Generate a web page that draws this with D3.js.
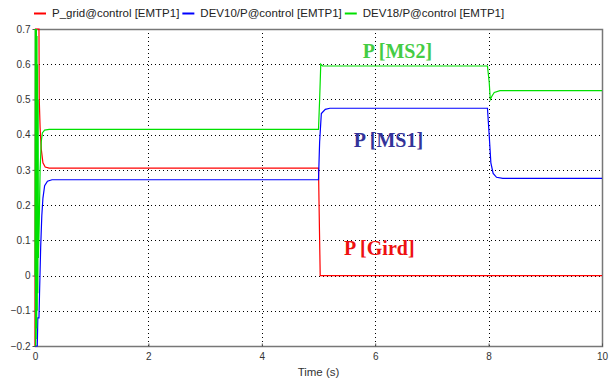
<!DOCTYPE html>
<html>
<head>
<meta charset="utf-8">
<script src="https://cdn.jsdelivr.net/npm/d3@7"></script>
<style>
  body { margin: 0; background: #fff; }
  svg { display: block; font-family: "Liberation Sans", Arial, sans-serif; }
</style>
</head>
<body>
<svg id="chart" width="616" height="381"></svg>
<script>
"use strict";

// series: [time (s), P]
const seriesNames = ["P_grid@control [EMTP1]", "DEV10/P@control [EMTP1]", "DEV18/P@control [EMTP1]"];
const seriesColors = ["#ff0000", "#0000ff", "#00e000"];
const pGrid = [[0,-0.2],[0.01,0.7],[0.07,0.7],[0.075,0.5],[0.09,0.42],[0.11,0.36],[0.14,0.32],[0.18,0.308],[0.25,0.305],
               [5.0,0.305],[5.01,0.2],[5.03,0],[10,0]];
const pMS1 = [[0,-0.2],[0.04,-0.2],[0.05,-0.12],[0.07,-0.12],[0.08,-0.05],[0.1,0.08],[0.12,0.17],[0.14,0.22],[0.17,0.255],[0.22,0.268],[0.3,0.272],
              [5.0,0.272],[5.02,0.38],[5.05,0.46],[5.12,0.472],[5.2,0.475],
              [7.98,0.475],[8.01,0.4],[8.04,0.32],[8.08,0.29],[8.14,0.279],[8.25,0.276],[10,0.276]];
const pMS2 = [[0,0],[0.005,0.7],[0.01,-0.2],[0.015,0.7],[0.02,-0.18],[0.025,0.7],[0.03,-0.15],[0.035,0.68],[0.04,-0.1],[0.045,0.6],
              [0.05,-0.05],[0.055,0.5],[0.06,0.05],[0.075,0.15],[0.09,0.3],[0.11,0.38],[0.13,0.405],[0.17,0.413],[0.25,0.415],
              [5.0,0.415],[5.02,0.5],[5.04,0.6],[5.07,0.595],
              [7.98,0.595],[8.01,0.55],[8.03,0.5],[8.06,0.51],[8.1,0.52],[8.2,0.525],[10,0.525]];
const allSeries = [pGrid, pMS1, pMS2];

const xTicks = [0, 2, 4, 6, 8, 10];
const yTicks = [-0.2, -0.1, 0, 0.1, 0.2, 0.3, 0.4, 0.5, 0.6, 0.7];

const labels = [
    {text: "P [MS2]", t: 5.78, p: 0.618, color: "#44cc44"},
    {text: "P [MS1]", t: 5.62, p: 0.366, color: "#333399"},
    {text: "P [Gird]", t: 5.45, p: 0.057, color: "#ee1111"}
];

const plotLeft = 35, plotRight = 602, plotTop = 29, plotBottom = 346;
const svg = d3.select("svg#chart");
const xScale = d3.scaleLinear().domain([0, 10]).range([plotLeft, plotRight]);
const yScale = d3.scaleLinear().domain([-0.2, 0.7]).range([plotBottom, plotTop]);

// grid
svg.append("g").selectAll("line")
    .data(yTicks.slice(1, -1))
    .join("line")
    .attr("x1", plotLeft).attr("x2", plotRight)
    .attr("y1", d => Math.round(yScale(d)) + 0.5).attr("y2", d => Math.round(yScale(d)) + 0.5)
    .attr("stroke", "#000").attr("stroke-dasharray", "1,3");
svg.append("g").selectAll("line")
    .data(xTicks.slice(1, -1))
    .join("line")
    .attr("y1", plotTop).attr("y2", plotBottom)
    .attr("x1", d => Math.round(xScale(d)) + 0.5).attr("x2", d => Math.round(xScale(d)) + 0.5)
    .attr("stroke", "#000").attr("stroke-dasharray", "1,3");

// frame
svg.append("rect")
    .attr("x", plotLeft + 0.5).attr("y", plotTop + 0.5)
    .attr("width", plotRight - plotLeft).attr("height", plotBottom - plotTop)
    .attr("fill", "none").attr("stroke", "#777").attr("stroke-width", 1.5);

// axes
const xAxis = svg.append("g")
    .attr("transform", "translate(0," + (plotBottom + 0.5) + ")")
    .call(d3.axisBottom(xScale).tickValues(xTicks).tickSize(-3).tickPadding(6).tickFormat(d3.format("d")));
const yAxis = svg.append("g")
    .attr("transform", "translate(" + (plotLeft + 0.5) + ",0)")
    .call(d3.axisLeft(yScale).tickValues(yTicks).tickSize(3).tickPadding(2).tickFormat(d => d === 0 ? "0" : d3.format(".1f")(d)));
[xAxis, yAxis].forEach(ax => {
    ax.select(".domain").remove();
    ax.selectAll("line").attr("stroke", "#555");
    ax.selectAll("text").attr("fill", "#333").style("font-size", "10px").style("font-family", "Liberation Sans, Arial, sans-serif");
});

svg.append("text")
    .attr("x", (plotLeft + plotRight) / 2).attr("y", 376)
    .attr("text-anchor", "middle").attr("fill", "#333")
    .style("font-size", "11.5px")
    .text("Time (s)");

// series
const line = d3.line().x(d => xScale(d[0])).y(d => yScale(d[1]));
svg.append("g").selectAll("path")
    .data(allSeries)
    .join("path")
    .attr("d", d => line(d))
    .attr("fill", "none")
    .attr("stroke", (d, i) => seriesColors[i])
    .attr("stroke-width", 1.2);

// legend, laid out left to right
let legendX = 34;
seriesNames.forEach((name, i) => {
    const g = svg.append("g").attr("transform", "translate(" + legendX + ",13)");
    g.append("line")
        .attr("x1", 0).attr("x2", 12).attr("y1", 0.5).attr("y2", 0.5)
        .attr("stroke", seriesColors[i]).attr("stroke-width", 2);
    const t = g.append("text")
        .attr("x", 18).attr("y", 4)
        .attr("fill", "#222")
        .style("font-size", "11.5px")
        .text(name);
    legendX += 18 + t.node().getComputedTextLength() + 3;
});

// annotations
svg.append("g").selectAll("text")
    .data(labels)
    .join("text")
    .attr("x", d => xScale(d.t)).attr("y", d => yScale(d.p))
    .attr("fill", d => d.color)
    .style("font-family", "Liberation Serif, Times New Roman, serif")
    .style("font-weight", "bold")
    .style("font-size", "20px")
    .text(d => d.text);
</script>
</body>
</html>
